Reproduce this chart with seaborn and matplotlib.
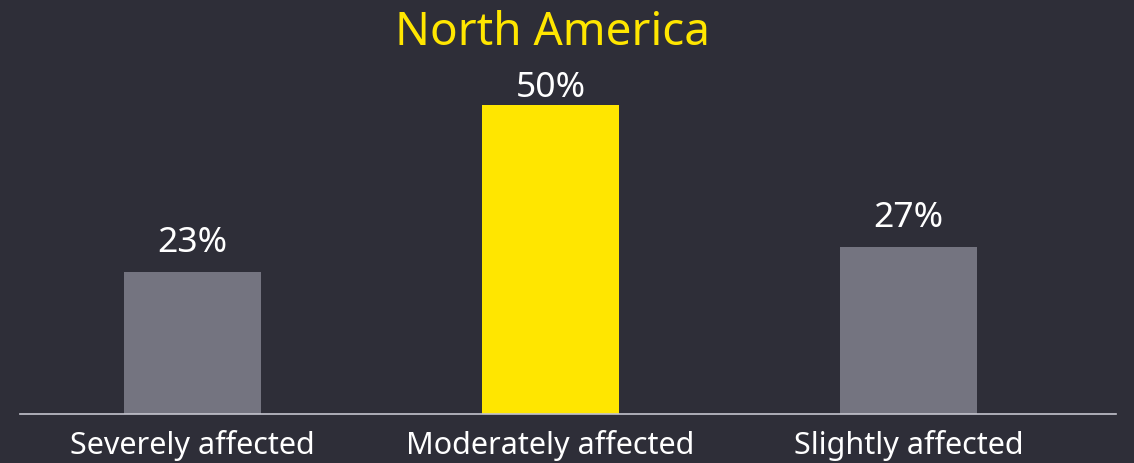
import matplotlib
matplotlib.use("Agg")
import matplotlib.pyplot as plt
import seaborn as sns

# values
categories = ["Severely affected", "Moderately affected", "Slightly affected"]
shares = [23, 50, 27]
bar_colors = ["#747480", "#ffe600", "#747480"]
label_offsets = [15, 6.5, 15]  # points from bar top to label baseline

bg = "#2e2e38"

sns.set_theme(style="dark")
plt.rcParams["font.family"] = ["Noto Sans", "DejaVu Sans"]

fig = plt.figure(figsize=(11.34, 4.64), dpi=100, facecolor=bg)
ax = fig.add_axes([0.0176, 0.1056, 0.9665, 0.765])
ax.set_facecolor(bg)

sns.barplot(x=categories, y=shares, hue=categories, palette=bar_colors,
            width=0.383, legend=False, saturation=1, linewidth=0, ax=ax)

ax.set_xlim(-0.482, 2.58)
ax.set_ylim(0, 57.5)

for i, v in enumerate(shares):
    ax.annotate(f"{v}%", (i, v), xytext=(0, label_offsets[i]),
                textcoords="offset points", ha="center", va="baseline",
                color="white", fontsize=25.5)

fig.text(0.487, 0.903, "North America", color="#ffe600", fontsize=33,
         ha="center", va="baseline")

for s in ["top", "right", "left"]:
    ax.spines[s].set_visible(False)
ax.spines["bottom"].set_color("#c4c4cd")
ax.spines["bottom"].set_linewidth(1.2)
ax.set_yticks([])
ax.tick_params(axis="x", colors="white", labelsize=22, length=0, pad=11)
ax.set_xlabel("")
ax.set_ylabel("")
ax.grid(False)

fig.savefig("out.png", dpi=100, facecolor=bg)
